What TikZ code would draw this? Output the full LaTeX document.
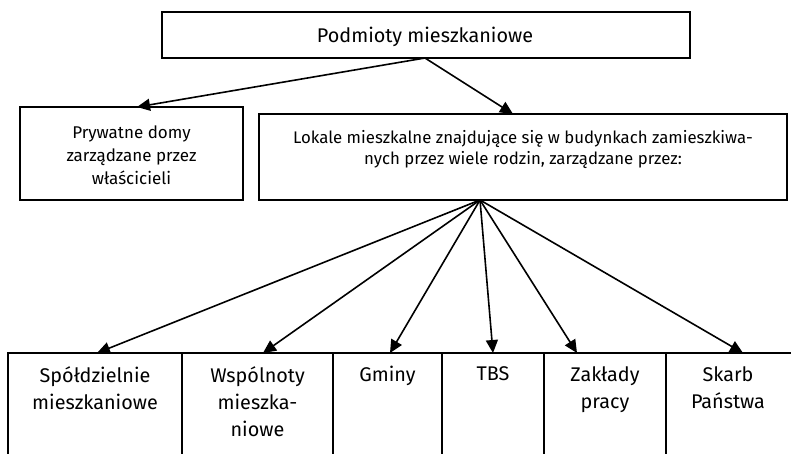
\documentclass[tikz,border=0pt]{standalone}
\usepackage{fontspec}
\setmainfont{Fira Sans}
\usetikzlibrary{arrows.meta}
\begin{document}
\begin{tikzpicture}[x=1pt,y=-1pt,
  box/.style={draw=black,line width=1.6pt,rectangle,inner sep=0pt},
  big/.style={font=\fontsize{19.8}{27}\selectfont,align=center,inner sep=0pt},
  small/.style={font=\fontsize{17}{23}\selectfont,align=center,inner sep=0pt},
  arr/.style={line width=1.6pt,-{Triangle[length=13pt,width=12pt]}}]
\useasboundingbox (0,0) rectangle (791,453);
% top box
\node[box,minimum width=528pt,minimum height=46pt] (top) at (426,35) {};
\node[big,anchor=center] (toptxt) at (425,37) {Podmioty mieszkaniowe};
% left box
\node[box,minimum width=223pt,minimum height=93pt] (left) at (131.5,153.5) {};
\node[small] (lefttxt) at (131.5,155) {Prywatne domy\\zarządzane przez\\właścicieli};
% big box
\node[box,minimum width=528pt,minimum height=86pt] (mid) at (523,157) {};
\node[small,font=\fontsize{16.8}{20.5}\selectfont] (midtxt) at (523,149.5) {Lokale mieszkalne znajdujące się w budynkach zamieszkiwa-\\nych przez wiele rodzin, zarządzane przez:};
% bottom boxes
\draw[line width=1.6pt] (8,460) |- (800,353);
\foreach \x in {182,333,442,544,666} \draw[line width=1.6pt] (\x,353) -- (\x,460);
\node[big,anchor=north] (b1) at (95,366) {Spółdzielnie\\mieszkaniowe};
\node[big,anchor=north] (b2) at (257.5,366) {Wspólnoty\\mieszka-\\niowe};
\node[big,anchor=north] (b3) at (387.5,366) {Gminy};
\node[big,anchor=north] (b4) at (493,366) {TBS};
\node[big,anchor=north] (b5) at (605,366) {Zakłady\\pracy};
\node[big,anchor=north] (b6) at (728,366) {Skarb\\Państwa};
% coordinates
\coordinate (fan) at (480,200);
\coordinate (t1) at (97,353);
\coordinate (t2) at (263,353);
\coordinate (t3) at (390,353);
\coordinate (t4) at (493,353);
\coordinate (t5) at (577,353);
\coordinate (t6) at (743,353);
\coordinate (tl) at (137,107);
\coordinate (tm) at (513,114);
\coordinate (src) at (425,58);
\draw[arr] (src) -- (tl);
\draw[arr] (src) -- (tm);
\foreach \i in {1,...,6} \draw[arr] (fan) -- (t\i);
\end{tikzpicture}
\end{document}
